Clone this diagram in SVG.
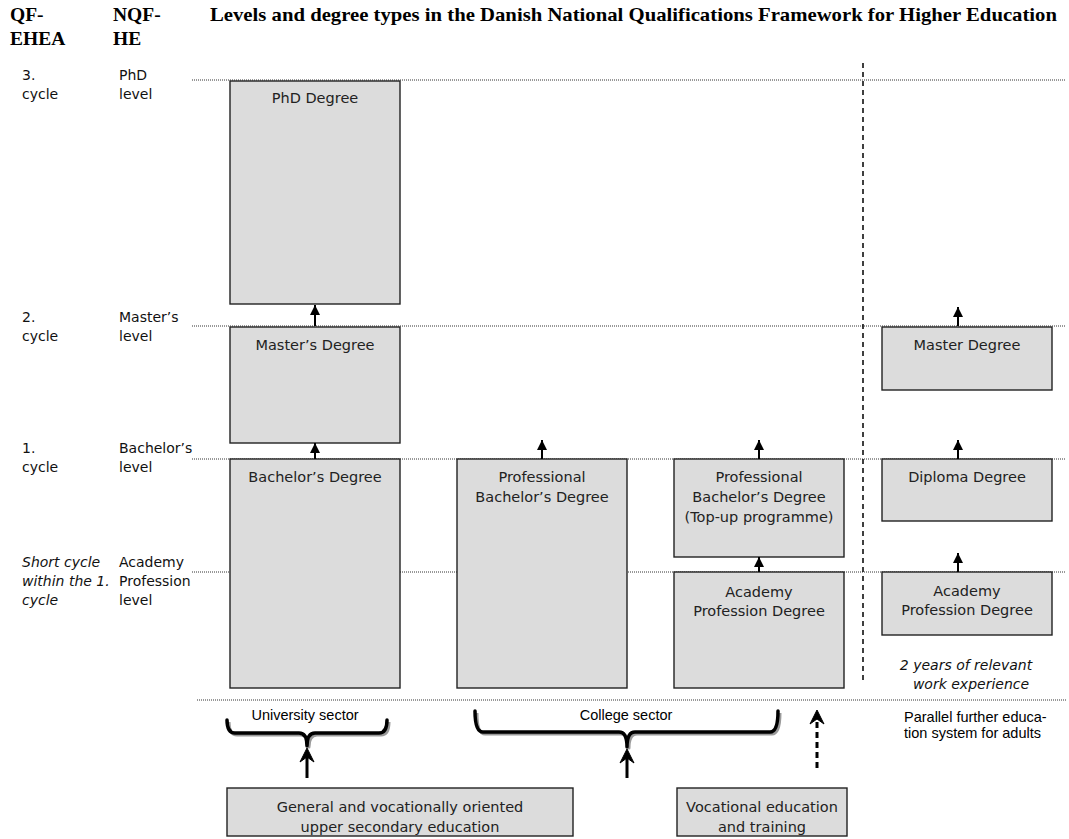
<svg xmlns="http://www.w3.org/2000/svg" width="1069" height="839" viewBox="0 0 1069 839">
<defs>
<style>
.title{font-family:"Liberation Serif","Times New Roman",serif;font-weight:bold;font-size:19.5px;fill:#000}
.lab{font-family:"DejaVu Sans",Verdana,sans-serif;font-size:14px;fill:#111}
.it{font-style:italic}
.bt{font-family:"DejaVu Sans",Verdana,sans-serif;font-size:14.5px;fill:#222;text-anchor:middle}
.sec{font-family:"Liberation Sans",Arial,sans-serif;font-size:14.5px;fill:#000}
.box{fill:#dcdcdc;stroke:#222;stroke-width:1.4}
.lvl{stroke:#333;stroke-width:1;stroke-dasharray:1 1;fill:none}
.arr{stroke:#000;stroke-width:2;fill:none;marker-end:url(#ah)}
.br{fill:none;stroke:#000;stroke-width:3.5;stroke-linejoin:round;stroke-linecap:round}
.brs{fill:none;stroke:#9a9a9a;stroke-width:3;stroke-linejoin:round}
</style>
<marker id="ah" viewBox="0 0 10 10" refX="10" refY="5" markerWidth="10" markerHeight="10" markerUnits="userSpaceOnUse" orient="auto">
<path d="M0,0 L10,5 L0,10 z" fill="#000"/>
</marker>
</defs>
<rect width="1069" height="839" fill="#fff"/>

<g id="header">
<text class="title" x="10" y="21">QF-</text>
<text class="title" x="10" y="45">EHEA</text>
<text class="title" x="113" y="21">NQF-</text>
<text class="title" x="113" y="45">HE</text>
<text class="title" x="210" y="21" textLength="847" lengthAdjust="spacingAndGlyphs">Levels and degree types in the Danish National Qualifications Framework for Higher Education</text>
</g>

<g id="level-lines">
<line class="lvl" x1="192" y1="80" x2="1066" y2="80"/>
<line class="lvl" x1="192" y1="326" x2="1066" y2="326"/>
<line class="lvl" x1="192" y1="459" x2="1066" y2="459"/>
<line class="lvl" x1="192" y1="572" x2="1066" y2="572"/>
<line class="lvl" x1="197" y1="700" x2="1066" y2="700"/>
<line x1="863" y1="63" x2="863" y2="680" stroke="#000" stroke-width="1.5" stroke-dasharray="5 4"/>
</g>

<g id="level-labels">
<text class="lab" x="22" y="80">3.</text>
<text class="lab" x="22" y="99">cycle</text>
<text class="lab" x="119" y="80">PhD</text>
<text class="lab" x="119" y="99">level</text>
<text class="lab" x="22" y="322">2.</text>
<text class="lab" x="22" y="341">cycle</text>
<text class="lab" x="119" y="322">Master’s</text>
<text class="lab" x="119" y="341">level</text>
<text class="lab" x="22" y="453">1.</text>
<text class="lab" x="22" y="472">cycle</text>
<text class="lab" x="119" y="453">Bachelor’s</text>
<text class="lab" x="119" y="472">level</text>
<text class="lab it" x="22" y="567">Short cycle</text>
<text class="lab it" x="22" y="586">within the 1.</text>
<text class="lab it" x="22" y="605">cycle</text>
<text class="lab" x="119" y="567">Academy</text>
<text class="lab" x="119" y="586">Profession</text>
<text class="lab" x="119" y="605">level</text>
</g>

<g id="phd">
<rect class="box" x="230" y="81" width="170" height="223"/>
<text class="bt" x="315" y="103">PhD Degree</text>
</g>
<g id="master">
<rect class="box" x="230" y="327" width="170" height="116"/>
<text class="bt" x="315" y="350">Master’s Degree</text>
</g>
<g id="bachelor">
<rect class="box" x="230" y="459" width="170" height="229"/>
<text class="bt" x="315" y="482">Bachelor’s Degree</text>
</g>
<g id="prof-bachelor">
<rect class="box" x="457" y="459" width="170" height="229"/>
<text class="bt" x="542" y="482">Professional</text>
<text class="bt" x="542" y="502">Bachelor’s Degree</text>
</g>
<g id="topup">
<rect class="box" x="674" y="459" width="170" height="98"/>
<text class="bt" x="759" y="482">Professional</text>
<text class="bt" x="759" y="502">Bachelor’s Degree</text>
<text class="bt" x="759" y="522">(Top-up programme)</text>
</g>
<g id="academy-college">
<rect class="box" x="674" y="572" width="170" height="116"/>
<text class="bt" x="759" y="597">Academy</text>
<text class="bt" x="759" y="616">Profession Degree</text>
</g>
<g id="master-adult">
<rect class="box" x="882" y="327" width="170" height="63"/>
<text class="bt" x="967" y="350">Master Degree</text>
</g>
<g id="diploma">
<rect class="box" x="882" y="459" width="170" height="62"/>
<text class="bt" x="967" y="482">Diploma Degree</text>
</g>
<g id="academy-adult">
<rect class="box" x="882" y="572" width="170" height="63"/>
<text class="bt" x="967" y="596">Academy</text>
<text class="bt" x="967" y="615">Profession Degree</text>
</g>
<g id="work-experience">
<text class="lab it" x="966" y="670" text-anchor="middle">2 years of relevant</text>
<text class="lab it" x="971" y="689" text-anchor="middle">work experience</text>
</g>

<g id="university-sector">
<text class="sec" x="305" y="720" text-anchor="middle">University sector</text>
<path class="brs" d="M229,722 Q229,735 237,735 L301,735 Q309,735 309,747 Q309,735 317,735 L381,735 Q389,735 389,722"/>
<path class="br" d="M227,720 Q227,733 235,733 L299,733 Q307,733 307,746 Q307,733 315,733 L379,733 Q387,733 387,720"/>
</g>
<g id="college-sector">
<text class="sec" x="626" y="720" text-anchor="middle">College sector</text>
<path class="brs" d="M477,713 Q477,734 485,734 L621,734 Q629,734 629,748 Q629,734 637,734 L772,734 Q780,734 780,713"/>
<path class="br" d="M475,711 Q475,732 483,732 L619,732 Q627,732 627,747 Q627,732 635,732 L770,732 Q778,732 778,711"/>
</g>
<g id="adult-system">
<text class="sec" x="904" y="722">Parallel further educa-</text>
<text class="sec" x="904" y="738">tion system for adults</text>
</g>

<g id="general-upper-secondary">
<rect class="box" x="227" y="788" width="346" height="48"/>
<text class="bt" x="400" y="812">General and vocationally oriented</text>
<text class="bt" x="400" y="832">upper secondary education</text>
</g>
<g id="vocational">
<rect class="box" x="677" y="788" width="170" height="48"/>
<text class="bt" x="762" y="812">Vocational education</text>
<text class="bt" x="762" y="832">and training</text>
</g>

<g id="connectors">
<line class="arr" x1="315" y1="326" x2="315" y2="305"/>
<line class="arr" x1="315" y1="459" x2="315" y2="443"/>
<line class="arr" x1="542" y1="459" x2="542" y2="440"/>
<line class="arr" x1="759" y1="459" x2="759" y2="440"/>
<line class="arr" x1="759" y1="572" x2="759" y2="557"/>
<line class="arr" x1="958" y1="326" x2="958" y2="307"/>
<line class="arr" x1="958" y1="459" x2="958" y2="440"/>
<line class="arr" x1="958" y1="572" x2="958" y2="553"/>
<line x1="307" y1="778" x2="307" y2="756" stroke="#000" stroke-width="3"/>
<path d="M307,748 L300,762 L307,757 L314,762 Z" fill="#000" stroke="#000" stroke-width="1" stroke-linejoin="round"/>
<line x1="627" y1="778" x2="627" y2="757" stroke="#000" stroke-width="3"/>
<path d="M627,749 L620,763 L627,758 L634,763 Z" fill="#000" stroke="#000" stroke-width="1" stroke-linejoin="round"/>
<line x1="817" y1="768" x2="817" y2="718" stroke="#000" stroke-width="3" stroke-dasharray="6 4"/>
<path d="M817,710 L810,724 L817,719 L824,724 Z" fill="#000" stroke="#000" stroke-width="1" stroke-linejoin="round"/>
</g>
</svg>
